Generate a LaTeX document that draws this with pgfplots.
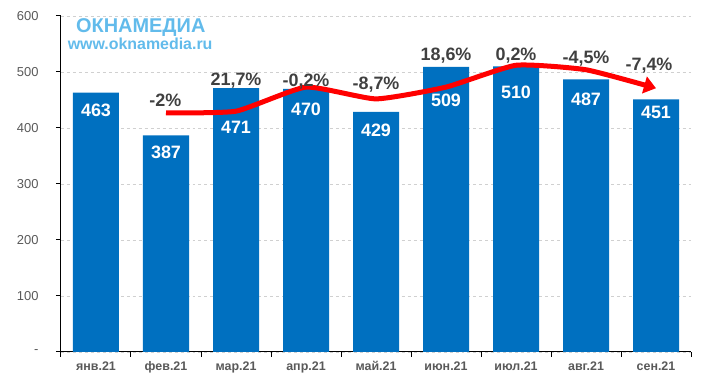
\documentclass[border=0pt]{standalone}
\usepackage{pgfplots}
\pgfplotsset{compat=1.18}
\usepackage{fontspec}
\setmainfont{Liberation Sans}
\usetikzlibrary{arrows.meta}
\definecolor{barblue}{HTML}{0070C0}
\definecolor{ticgray}{HTML}{595959}
\definecolor{lblgray}{HTML}{404040}
\definecolor{logoblue}{HTML}{62BBEB}
\definecolor{gridgray}{HTML}{D0D0D0}
\begin{document}
\begin{tikzpicture}
\begin{axis}[
  name=ax,
  scale only axis, width=630bp, height=336bp,
  xmin=-0.5, xmax=8.5, ymin=0, ymax=600,
  clip=false,
  axis x line*=bottom, axis y line*=left,
  axis line style={black, line width=1bp, -},
  xtick={0,...,8},
  xticklabels={янв.21,фев.21,мар.21,апр.21,май.21,июн.21,июл.21,авг.21,сен.21},
  minor xtick={-0.5,0.5,...,8.5},
  major x tick style={draw=none},
  minor x tick style={black, line width=1bp},
  minor tick length=5bp,
  ytick={0,100,...,600},
  yticklabels={-,100,200,300,400,500,600},
  y tick style={black, line width=1bp},
  major tick length=5bp,
  tick align=outside,
  ymajorgrids,
  grid style={dashed, gridgray, line width=0.8bp},
  /pgf/number format/assume math mode=true,
  xticklabel style={font=\fontsize{12.5}{14}\selectfont\bfseries, text=ticgray, yshift=-1bp},
  yticklabel style={font=\fontsize{13}{15}\selectfont, text=ticgray, xshift=-14bp},
]
\addplot[ybar, bar width=46bp, fill=barblue, draw=none] coordinates {
  (0,463) (1,387) (2,471) (3,470) (4,429) (5,509) (6,510) (7,487) (8,451)};
% bar value labels
\addplot[draw=none, mark=none, nodes near coords, point meta=explicit symbolic,
  every node near coord/.append style={anchor=center, text=white, font=\fontsize{18}{20}\selectfont\bfseries}]
  coordinates {
  (0,432) [463] (1,357) [387] (2,402) [471] (3,434) [470] (4,396) [429]
  (5,450) [509] (6,464) [510] (7,452) [487] (8,427) [451]};
% red trend line
\addplot[red, line width=5bp, smooth, tension=0.3, -{Triangle[length=12bp,width=17bp]}] coordinates {
  (1,427) (2,430) (3,473) (4,452) (5,473) (6,512) (7,504) (8,471)};
% percent labels
\addplot[draw=none, mark=none, nodes near coords, point meta=explicit symbolic,
  every node near coord/.append style={anchor=center, text=lblgray, font=\fontsize{18}{20}\selectfont\bfseries}]
  coordinates {
  (0.99,450) [{-2\%}] (2,484) [{21,7\%}] (3,482) [{-0,2\%}] (4,477) [{-8,7\%}]
  (5,530) [{18,6\%}] (6,530) [{0,2\%}] (7,524) [{-4,5\%}] (7.9,512) [{-7,4\%}]};
% logo
\node[text=logoblue, font=\fontsize{20}{22}\selectfont\bfseries] at (axis cs:0.64,580) {ОКНАМЕДИА};
\node[text=logoblue, font=\fontsize{16}{18}\selectfont\bfseries] at (axis cs:0.63,550) {www.oknamedia.ru};
\end{axis}
\path ([shift={(-61bp,-26bp)}]ax.south west) rectangle ([shift={(15bp,16bp)}]ax.north east);
\end{tikzpicture}
\end{document}
